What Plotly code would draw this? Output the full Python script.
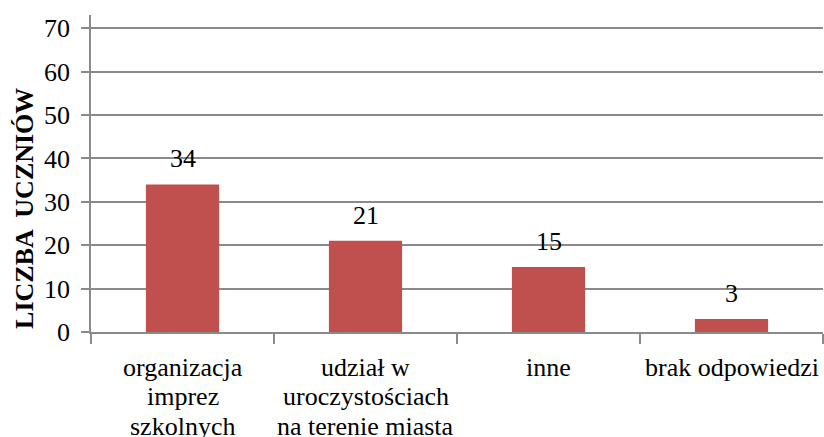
import plotly.graph_objects as go

# Data
categories = ["organizacja imprez szkolnych", "udział w uroczystościach na terenie miasta", "inne", "brak odpowiedzi"]
category_lines = [["organizacja", "imprez", "szkolnych"],
                  ["udział w", "uroczystościach", "na terenie miasta"],
                  ["inne"],
                  ["brak odpowiedzi"]]
values = [34, 21, 15, 3]
y_ticks = [0, 10, 20, 30, 40, 50, 60, 70]
y_title = "LICZBA  UCZNIÓW"

FONT = "Liberation Serif"
BAR = "#C0504D"
GRID = "#8a8a8a"

fig = go.Figure()
fig.add_trace(go.Bar(x=categories, y=values, marker=dict(color=BAR, line=dict(width=0)),
                     hoverinfo="skip"))

annotations = []
# data labels
for c, v in zip(categories, values):
    annotations.append(dict(x=c, y=v, xref="x", yref="y", text=str(v), showarrow=False,
                            yanchor="bottom", yshift=9,
                            font=dict(family=FONT, size=26, color="#000000")))
# category labels, line by line
for c, lines in zip(categories, category_lines):
    for i, ln in enumerate(lines):
        annotations.append(dict(x=c, y=0, xref="x", yref="y", text=ln, showarrow=False,
                                yanchor="middle", yshift=-(35 + 29.5 * i),
                                font=dict(family=FONT, size=26, color="#000000")))
# y-axis title
annotations.append(dict(x=-0.09, y=0.3886, xref="paper", yref="paper", text="<b>" + y_title + "</b>",
                        textangle=-90, showarrow=False, xanchor="center", yanchor="middle",
                        font=dict(family=FONT, size=26, color="#000000")))

fig.update_layout(
    width=824, height=437,
    margin=dict(l=91, r=1, t=15, b=105),
    paper_bgcolor="white", plot_bgcolor="white",
    bargap=0.6,
    showlegend=False,
    annotations=annotations,
    font=dict(family=FONT, size=26, color="#000000"),
    xaxis=dict(type="category", showticklabels=False, showgrid=False,
               showline=True, linecolor=GRID, linewidth=1.5,
               ticks="outside", tickson="boundaries", ticklen=10, tickcolor=GRID, tickwidth=1.5),
    yaxis=dict(range=[0, 73.05], tickvals=y_ticks, showgrid=True, gridcolor=GRID, gridwidth=1.5,
               showline=True, linecolor=GRID, linewidth=1.5, zeroline=False,
               ticks="outside", ticklen=8, tickcolor=GRID, tickwidth=1.5,
               ticklabelstandoff=6,
               tickfont=dict(family=FONT, size=26, color="#000000")),
)

fig.write_html("out.html", config={"displayModeBar": False},
               post_script="document.body.style.margin='0';document.body.style.overflow='hidden';")
